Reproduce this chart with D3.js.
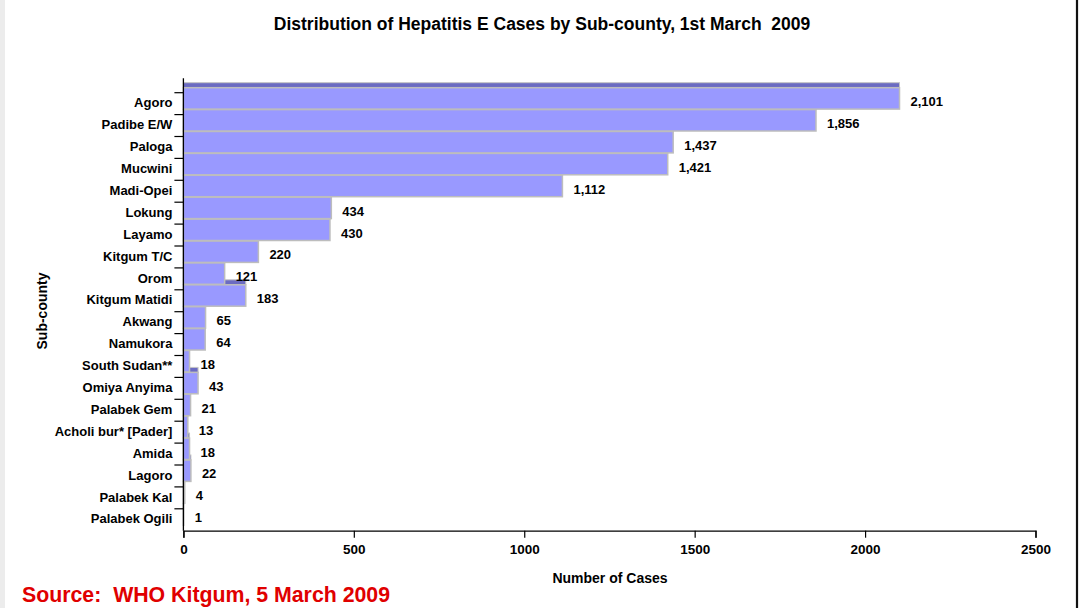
<!DOCTYPE html>
<html>
<head>
<meta charset="utf-8">
<script src="https://cdn.jsdelivr.net/npm/d3@7/dist/d3.min.js"></script>
<style>
  html, body { margin: 0; padding: 0; background: #fff; overflow: hidden; }
  svg { display: block; }
  text { font-family: "Liberation Sans", Arial, Helvetica, sans-serif; font-weight: bold; fill: #000; white-space: pre; }
</style>
</head>
<body>
<svg id="chart" width="1081" height="608"></svg>
<script>
const categories = ["Agoro", "Padibe E/W", "Paloga", "Mucwini", "Madi-Opei", "Lokung", "Layamo",
  "Kitgum T/C", "Orom", "Kitgum Matidi", "Akwang", "Namukora", "South Sudan**", "Omiya Anyima",
  "Palabek Gem", "Acholi bur* [Pader]", "Amida", "Lagoro", "Palabek Kal", "Palabek Ogili"];
const cases = [2101, 1856, 1437, 1421, 1112, 434, 430, 220, 121, 183, 65, 64, 18, 43, 21, 13, 18, 22, 4, 1];
const xTicks = [0, 500, 1000, 1500, 2000, 2500];
const title = "Distribution of Hepatitis E Cases by Sub-county, 1st March  2009";
const xTitle = "Number of Cases";
const yTitle = "Sub-county";
const sourceNote = "Source:  WHO Kitgum, 5 March 2009";

const data = categories.map((c, i) => ({ cat: c, value: cases[i] }));

const W = 1081, H = 608;
const svg = d3.select("#chart");

// slide background details
svg.append("rect").attr("x", 0).attr("y", 0).attr("width", 5).attr("height", H).attr("fill", "#ececec");
svg.append("line").attr("x1", 1077).attr("x2", 1077).attr("y1", 0).attr("y2", H)
  .attr("stroke", "#111").attr("stroke-width", 2.2);

const pLeft = 183.4, pRight = 1035.5, pTop = 92.7, pBottom = 530.7;
const x = d3.scaleLinear().domain([0, 2500]).range([pLeft, pRight]);
const y = d3.scaleBand().domain(categories).range([pTop, pBottom]).padding(0);
const bw = y.bandwidth();

// title
svg.append("text").attr("x", 542).attr("y", 30).attr("text-anchor", "middle")
  .attr("xml:space", "preserve")
  .style("font-size", "17.5px").text(title);

// bars: drawn bottom-to-top so each upper bar overlaps the top strip of the bar below
const barG = svg.append("g");
const rev = data.slice().reverse();
const g = barG.selectAll("g.bar").data(rev).join("g").attr("class", "bar");
g.append("rect")
  .attr("x", pLeft)
  .attr("y", d => y(d.cat) - 10)
  .attr("width", d => Math.max(0, x(d.value) - pLeft))
  .attr("height", 5)
  .attr("fill", "#6b6bc2")
  .attr("stroke", "#c4c4c4").attr("stroke-width", 1);
g.append("rect")
  .attr("x", pLeft)
  .attr("y", d => y(d.cat) - 5)
  .attr("width", d => Math.max(0, x(d.value) - pLeft))
  .attr("height", bw - 0.5)
  .attr("fill", "#9999ff")
  .attr("stroke", "#bdbdbd").attr("stroke-width", 1.5);

// value labels
const fmt = d3.format(",");
svg.append("g").selectAll("text").data(data).join("text")
  .attr("x", d => x(d.value) + 11)
  .attr("y", d => y(d.cat) + bw / 2 - 2)
  .attr("dominant-baseline", "central")
  .style("font-size", "13px")
  .text(d => fmt(d.value));

// y axis
const yAx = svg.append("g");
yAx.append("line").attr("x1", pLeft).attr("x2", pLeft).attr("y1", pTop - 14.5).attr("y2", pBottom)
  .attr("stroke", "#000").attr("stroke-width", 1.3);
yAx.selectAll("line.tick").data(categories).join("line").attr("class", "tick")
  .attr("x1", pLeft - 9).attr("x2", pLeft)
  .attr("y1", d => y(d)).attr("y2", d => y(d))
  .attr("stroke", "#000").attr("stroke-width", 1.2);
yAx.selectAll("text").data(categories).join("text")
  .attr("x", pLeft - 11)
  .attr("y", d => y(d) + bw / 2 - 0.8)
  .attr("text-anchor", "end")
  .attr("dominant-baseline", "central")
  .style("font-size", "13px")
  .text(d => d);

// x axis
const xAxis = d3.axisBottom(x).tickValues(xTicks).tickSize(7).tickPadding(7).tickFormat(d3.format("d"));
const xg = svg.append("g").attr("transform", `translate(0,${pBottom})`).call(xAxis);
xg.select(".domain").attr("stroke", "#000").attr("stroke-width", 1.3);
xg.selectAll(".tick line").attr("stroke", "#000").attr("stroke-width", 1.2);
xg.selectAll(".tick text")
  .style("font-size", "13.5px").style("font-weight", "bold")
  .style("font-family", "'Liberation Sans', Arial, sans-serif").attr("fill", "#000");

// axis titles
svg.append("text").attr("x", 610).attr("y", 578).attr("text-anchor", "middle")
  .attr("dominant-baseline", "central").style("font-size", "14px").text(xTitle);
svg.append("text").attr("transform", "translate(42,311) rotate(-90)")
  .attr("text-anchor", "middle").attr("dominant-baseline", "central")
  .style("font-size", "14px").text(yTitle);

// source note
svg.append("text").attr("x", 22).attr("y", 602)
  .attr("xml:space", "preserve")
  .style("font-size", "21.3px").style("fill", "#e00000").text(sourceNote);
</script>
</body>
</html>
